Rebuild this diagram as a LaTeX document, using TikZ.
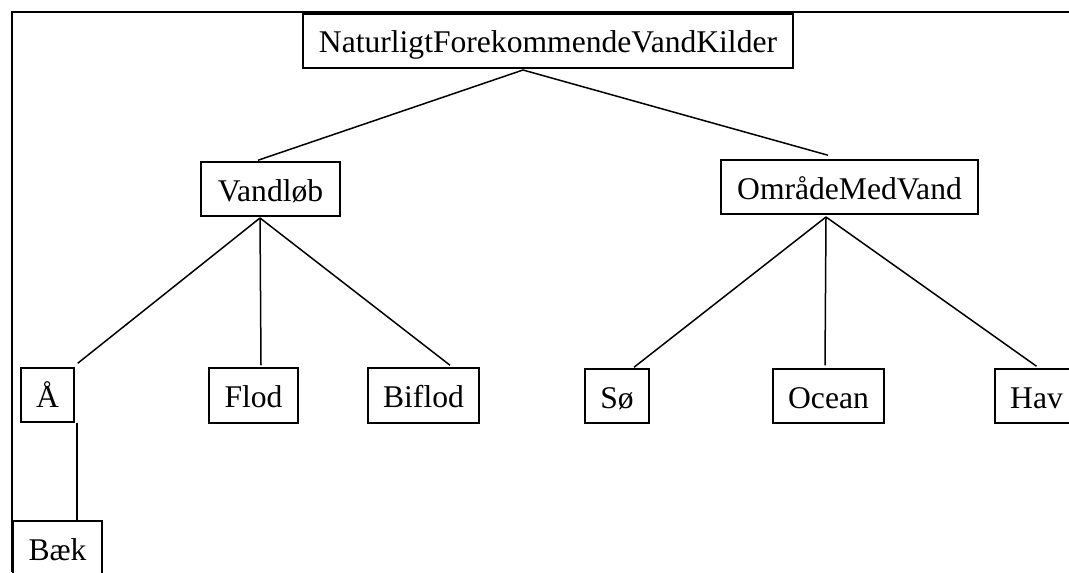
\documentclass[tikz,border=0pt]{standalone}
\usepackage{fontspec}
\setmainfont{Liberation Serif}
\begin{document}
\begin{tikzpicture}[x=0.5pt,y=-0.5pt,
  kasse/.style={draw,line width=0.75pt,inner sep=0pt,minimum height=27pt,
    font=\fontsize{15.8}{19}\selectfont,text height=14pt,text depth=2pt},
  streg/.style={line width=0.75pt}]

\useasboundingbox (0,0) rectangle (1069,572);

\draw[line width=1pt] (12,572)--(12,12)--(1069,12);

\node[kasse,minimum width=245pt] (rod) at (548,41) {NaturligtForekommendeVandKilder};

\node[kasse,minimum width=69.5pt] (vandloeb) at (270.5,189) {Vandløb};
\node[kasse,minimum width=128.5pt] (omraade) at (849.5,187) {OmrådeMedVand};

\node[kasse,minimum width=26.5pt] (aa) at (47.5,395) {Å};
\node[kasse,minimum width=44.5pt,minimum height=27.5pt] (flod) at (253.5,395.5) {Flod};
\node[kasse,minimum width=55.5pt,minimum height=27.5pt] (biflod) at (423.5,395.5) {Biflod};
\node[kasse,minimum width=32pt] (soe) at (617,396) {Sø};
\node[kasse,minimum width=55.5pt] (ocean) at (828.5,396) {Ocean};
\node[kasse,minimum width=41.5pt] (hav) at (1036.5,396) {Hav};
\node[kasse,minimum width=44.5pt] (baek) at (57.5,548) {Bæk};

\coordinate (rodJ) at (523,70);
\coordinate (vandJ) at (260,218);
\coordinate (omrJ) at (826,217);
\coordinate (aaB) at ([xshift=1pt]aa.south east);

\draw[streg] (rodJ) -- ([xshift=-6.25pt,yshift=0.5pt]vandloeb.north);
\draw[streg] (rodJ) -- ([xshift=-10.75pt,yshift=2pt]omraade.north);

\draw[streg] (vandJ) -- ([xshift=1.5pt,yshift=2pt]aa.north east);
\draw[streg] (vandJ) -- ([xshift=3.75pt,yshift=1pt]flod.north);
\draw[streg] (vandJ) -- ([xshift=13.25pt,yshift=1pt]biflod.north);

\draw[streg] (omrJ) -- ([xshift=8.5pt,yshift=0.5pt]soe.north);
\draw[streg] (omrJ) -- ([xshift=-1.75pt,yshift=1.5pt]ocean.north);
\draw[streg] (omrJ) -- ([yshift=1pt]hav.north);

\draw[streg] (aaB) -- (aaB |- baek.north);

\end{tikzpicture}
\end{document}
